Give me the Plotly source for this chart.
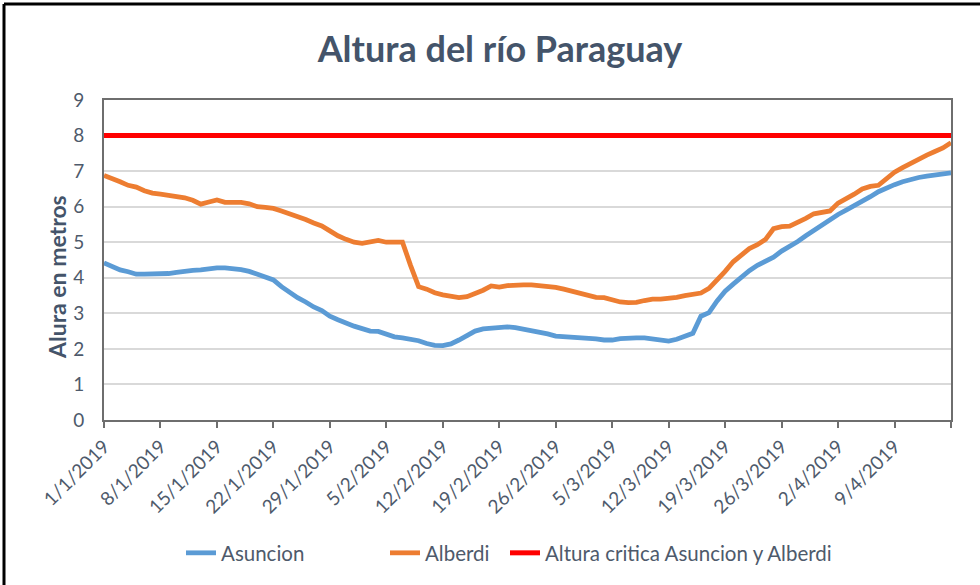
import pandas as pd
import plotly.graph_objects as go

start_date = "2019-01-01"
n_days = 106

asuncion = [
    4.42, 4.33, 4.22, 4.17, 4.10, 4.10, 4.10, 4.10, 4.12, 4.15,
    4.19, 4.21, 4.22, 4.26, 4.28, 4.28, 4.27, 4.23, 4.18, 4.09,
    4.02, 3.94, 3.75, 3.58, 3.44, 3.32, 3.18, 3.08, 2.92, 2.82,
    2.72, 2.64, 2.57, 2.50, 2.49, 2.40, 2.34, 2.31, 2.28, 2.23,
    2.15, 2.10, 2.09, 2.14, 2.25, 2.38, 2.50, 2.56, 2.59, 2.62,
    2.62, 2.60, 2.56, 2.52, 2.46, 2.42, 2.36, 2.35, 2.33, 2.30,
    2.29, 2.28, 2.25, 2.25, 2.29, 2.31, 2.31, 2.31, 2.28, 2.25,
    2.22, 2.27, 2.34, 2.44, 2.92, 3.02, 3.35, 3.62, 3.82, 4.02,
    4.20, 4.35, 4.47, 4.58, 4.75, 4.88, 5.02, 5.18, 5.33, 5.50,
    5.65, 5.78, 5.90, 6.02, 6.13, 6.28, 6.42, 6.53, 6.62, 6.70,
    6.77, 6.82, 6.86, 6.89, 6.92, 6.95,
]

alberdi = [
    6.88, 6.80, 6.70, 6.60, 6.55, 6.45, 6.38, 6.35, 6.32, 6.28,
    6.25, 6.18, 6.07, 6.13, 6.19, 6.12, 6.12, 6.12, 6.08, 6.00,
    5.98, 5.95, 5.88, 5.81, 5.72, 5.64, 5.54, 5.46, 5.32, 5.18,
    5.08, 5.00, 4.97, 5.00, 5.05, 5.00, 5.00, 5.00, 4.35, 3.75,
    3.68, 3.58, 3.52, 3.48, 3.44, 3.47, 3.55, 3.65, 3.77, 3.74,
    3.78, 3.80, 3.80, 3.80, 3.78, 3.75, 3.73, 3.68, 3.62, 3.57,
    3.50, 3.45, 3.44, 3.37, 3.32, 3.30, 3.31, 3.36, 3.40, 3.40,
    3.41, 3.45, 3.50, 3.55, 3.57, 3.70, 3.92, 4.18, 4.45, 4.65,
    4.82, 4.93, 5.08, 5.38, 5.44, 5.45, 5.55, 5.67, 5.80, 5.84,
    5.88, 6.10, 6.22, 6.35, 6.50, 6.57, 6.60, 6.78, 6.97, 7.10,
    7.22, 7.35, 7.45, 7.55, 7.65, 7.80,
]

critical_level = 8

tick_dates = ["2019-01-01", "2019-01-08", "2019-01-15", "2019-01-22", "2019-01-29",
              "2019-02-05", "2019-02-12", "2019-02-19", "2019-02-26", "2019-03-05",
              "2019-03-12", "2019-03-19", "2019-03-26", "2019-04-02", "2019-04-09",
              "2019-04-16"]
tick_labels = ["1/1/2019", "8/1/2019", "15/1/2019", "22/1/2019", "29/1/2019",
               "5/2/2019", "12/2/2019", "19/2/2019", "26/2/2019", "5/3/2019",
               "12/3/2019", "19/3/2019", "26/3/2019", "2/4/2019", "9/4/2019", ""]

dates = pd.date_range(start_date, periods=n_days, freq="D")
critical = [critical_level] * n_days

font_family = "Lato, 'Open Sans', sans-serif"
text_color = "#4E5A6B"
title_color = "#44546A"
axis_color = "#6E6E6E"

# plot area geometry (pixels) used to place frame lines, labels and legends
pl, pr, pt, pb = 104, 29, 100, 165
pw, ph = 980 - pl - pr, 585 - pt - pb


def px_x(px):
    return (px - pl) / pw


def px_y(py):
    return (585 - pb - py) / ph


fig = go.Figure()
fig.add_trace(go.Scatter(x=dates, y=asuncion, mode="lines", name="Asuncion",
                         line=dict(color="#5B9BD5", width=4.8), legend="legend"))
fig.add_trace(go.Scatter(x=dates, y=alberdi, mode="lines", name="Alberdi",
                         line=dict(color="#ED7D31", width=4.8), legend="legend2"))
fig.add_trace(go.Scatter(x=dates, y=critical, mode="lines",
                         name="Altura critica Asuncion y Alberdi",
                         line=dict(color="#FF0000", width=5), legend="legend3"))

legend_common = dict(orientation="h", yanchor="middle", xanchor="left",
                     font=dict(size=20.5, color=text_color), itemwidth=30,
                     bgcolor="rgba(0,0,0,0)")

fig.update_layout(
    width=980, height=585,
    margin=dict(l=pl, r=pr, t=pt, b=pb, autoexpand=False),
    paper_bgcolor="white", plot_bgcolor="white",
    font=dict(family=font_family, color=text_color, size=19),
    title=dict(text="<b>Altura del río Paraguay</b>", x=500 / 980, xref="container",
               xanchor="center", y=1 - 49 / 585, yanchor="middle",
               font=dict(size=36, color=title_color, family=font_family)),
    showlegend=True,
    legend=dict(x=px_x(224 - 43), y=px_y(553), **legend_common),
    legend2=dict(x=px_x(428 - 43), y=px_y(553), **legend_common),
    legend3=dict(x=px_x(548 - 43), y=px_y(553), **legend_common),
    shapes=[
        dict(type="line", xref="paper", yref="paper",
             x0=px_x(4), x1=px_x(980), y0=px_y(4), y1=px_y(4),
             line=dict(color="black", width=3)),
        dict(type="line", xref="paper", yref="paper",
             x0=px_x(4), x1=px_x(4), y0=px_y(4), y1=px_y(585),
             line=dict(color="black", width=3)),
    ],
    annotations=[
        dict(text="<b>Alura en metros</b>", textangle=-90, showarrow=False,
             xref="paper", yref="paper", x=px_x(57), y=px_y(277),
             xanchor="center", yanchor="middle",
             font=dict(size=23, color=title_color, family=font_family)),
    ],
)

fig.update_xaxes(
    type="date",
    range=[dates[0], dates[-1]],
    tickvals=tick_dates, ticktext=tick_labels,
    tickangle=-45, automargin=False,
    showgrid=False,
    showline=True, linecolor=axis_color, linewidth=2, mirror=True,
    ticks="outside", ticklen=6, tickcolor=axis_color, tickwidth=2,
    tickfont=dict(size=19, color=text_color),
)

fig.update_yaxes(
    range=[0, 9], dtick=1, tick0=0, automargin=False,
    showgrid=True, gridcolor="#D9D9D9", gridwidth=1.5,
    showline=True, linecolor=axis_color, linewidth=2, mirror=True,
    zeroline=False,
    ticks="", ticklabelstandoff=14,
    tickfont=dict(size=19, color=text_color),
)

fig.write_html(
    "out.html",
    config={"displayModeBar": False},
    post_script="document.body.style.margin='0';document.body.style.padding='0';"
                "document.documentElement.style.overflow='hidden';",
)
